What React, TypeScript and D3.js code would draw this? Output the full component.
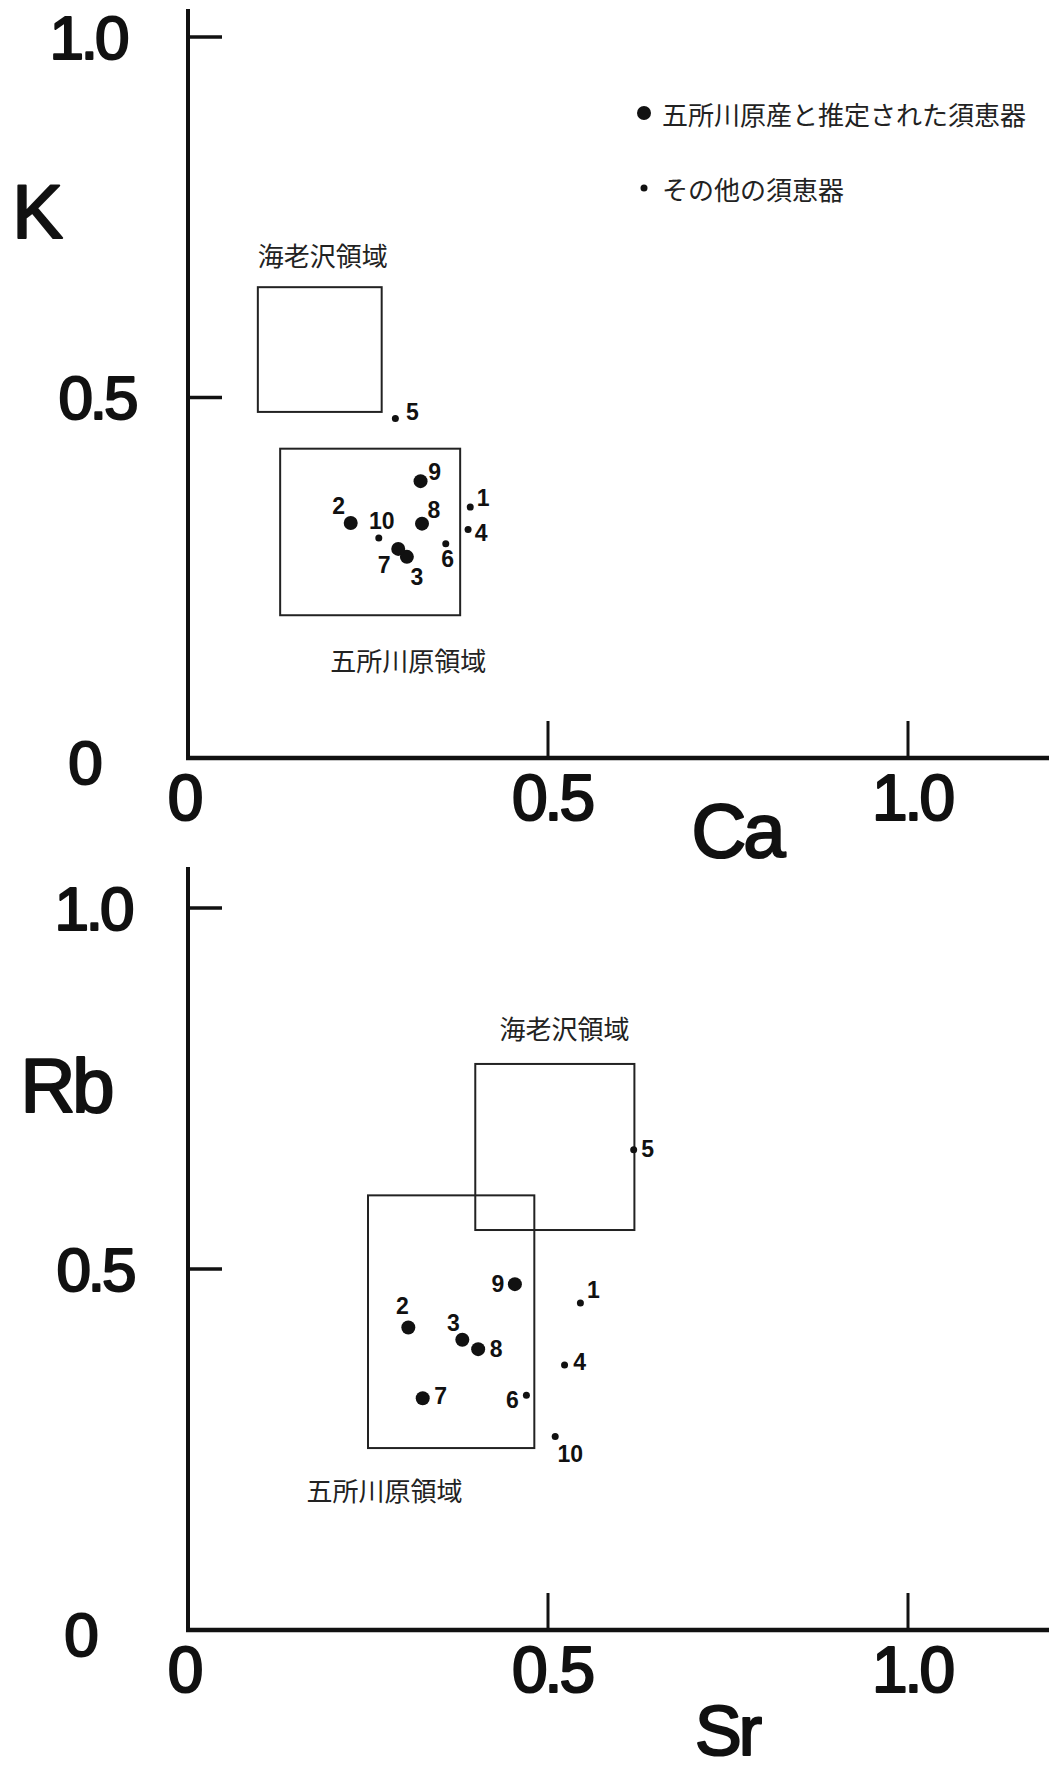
import React, { useEffect, useRef } from 'react';
import * as d3 from 'd3';

// sample numbers 1..10
const sampleIds = [1, 2, 3, 4, 5, 6, 7, 8, 9, 10];
// true = 五所川原産と推定された須恵器 (large dot)
const goshogawaraMade = [false, true, true, false, false, false, true, true, true, false];

const caValues = [0.392, 0.226, 0.304, 0.389, 0.288, 0.358, 0.292, 0.325, 0.323, 0.265];
const kValues = [0.348, 0.326, 0.279, 0.317, 0.471, 0.297, 0.290, 0.325, 0.384, 0.305];
const srValues = [0.545, 0.306, 0.381, 0.523, 0.619, 0.470, 0.326, 0.403, 0.454, 0.510];
const rbValues = [0.453, 0.419, 0.402, 0.367, 0.665, 0.325, 0.321, 0.389, 0.479, 0.268];

// regions [x0, x1, y0, y1]
const caKRegions = [
  { name: '海老沢領域', box: [0.097, 0.269, 0.480, 0.653] },
  { name: '五所川原領域', box: [0.128, 0.378, 0.198, 0.429] },
];
const srRbRegions = [
  { name: '海老沢領域', box: [0.399, 0.620, 0.554, 0.784] },
  { name: '五所川原領域', box: [0.250, 0.481, 0.252, 0.602] },
];

const tickValues = [0, 0.5, 1.0];
const tickLabels = ['0', '0.5', '1.0'];

const legendItems = ['五所川原産と推定された須恵器', 'その他の須恵器'];

// label placement (px offsets from the dot)
const caKLabelOffsets = [[13, -9], [-12, -17], [10, 20], [13, 4], [17, -6], [2, 15], [-14, 16], [12, -14], [14, -9], [3, -17]];
const srRbLabelOffsets = [[13, -13], [-6, -21], [-9, -17], [15, -3], [14, -1], [-14, 5], [18, -2], [18, 0], [-17, 0], [15, 17]];

const W = 1049;
const H = 1769;
const NUM_FONT = "'Liberation Sans', Arial, sans-serif";
const JP_FONT = "'Noto Sans CJK JP', sans-serif";
const PT_FONT = "'Liberation Sans', Arial, sans-serif";

type PanelCfg = {
  xs: number[];
  ys: number[];
  regions: { name: string; box: number[] }[];
  offsets: number[][];
  yRange: [number, number];
  yTop: number;
  xTitle: string;
  yTitle: string;
  xTitlePos: [number, number];
  yTitlePos: [number, number];
  titleSize: number;
  regionLabels: { x: number; y: number; anchor: string }[];
  yLabelX: number[];
};

const App = () => {
  const svgRef = useRef<SVGSVGElement>(null);

  useEffect(() => {
    const svg = d3.select(svgRef.current);
    svg.selectAll('*').remove();

    svg.append('rect').attr('width', W).attr('height', H).attr('fill', '#fff');

    // heavy rounded look for the big axis lettering
    const bigText = (sel: any, size: number) => sel
      .attr('text-anchor', 'middle').attr('dominant-baseline', 'central')
      .style('font-family', NUM_FONT).style('font-size', `${size}px`).style('font-weight', 400)
      .style('letter-spacing', '-3px')
      .attr('fill', '#111').attr('stroke', '#111').attr('stroke-width', 2.2)
      .attr('stroke-linejoin', 'round');

    const drawPanel = (cfg: PanelCfg) => {
      const x = d3.scaleLinear().domain([0, 1]).range([188, 908]);
      const y = d3.scaleLinear().domain([0, 1]).range(cfg.yRange);
      const g = svg.append('g');
      const y0 = y(0);

      // axes
      g.append('line').attr('x1', x(0)).attr('x2', x(0)).attr('y1', cfg.yTop).attr('y2', y0 + 2)
        .attr('stroke', '#111').attr('stroke-width', 4);
      g.append('line').attr('x1', x(0) - 2).attr('x2', W).attr('y1', y0).attr('y2', y0)
        .attr('stroke', '#111').attr('stroke-width', 4.5);

      // ticks
      g.selectAll('.xt').data(tickValues.slice(1)).join('line')
        .attr('x1', d => x(d)).attr('x2', d => x(d)).attr('y1', y0).attr('y2', y0 - 37)
        .attr('stroke', '#111').attr('stroke-width', 3);
      g.selectAll('.yt').data(tickValues.slice(1)).join('line')
        .attr('x1', x(0)).attr('x2', x(0) + 34).attr('y1', d => y(d)).attr('y2', d => y(d))
        .attr('stroke', '#111').attr('stroke-width', 3.5);

      // tick labels
      bigText(g.selectAll('.xl').data(tickValues).join('text'), 64)
        .attr('x', (d: number) => x(d) - 4 + (d === 0 ? 0 : 8))
        .attr('y', y0 + 40)
        .text((d: number, i: number) => tickLabels[i]);
      bigText(g.selectAll('.yl').data(tickValues).join('text'), 62)
        .attr('x', (d: number, i: number) => cfg.yLabelX[i])
        .attr('y', (d: number) => y(d) + (d === 0 ? 4 : 0))
        .text((d: number, i: number) => tickLabels[i]);

      // axis titles
      bigText(g.append('text'), cfg.titleSize)
        .attr('x', cfg.xTitlePos[0]).attr('y', cfg.xTitlePos[1])
        .text(cfg.xTitle);
      bigText(g.append('text'), 76)
        .attr('x', cfg.yTitlePos[0]).attr('y', cfg.yTitlePos[1])
        .text(cfg.yTitle);

      // region boxes
      g.selectAll('.rg').data(cfg.regions).join('rect')
        .attr('x', d => x(d.box[0])).attr('y', d => y(d.box[3]))
        .attr('width', d => x(d.box[1]) - x(d.box[0]))
        .attr('height', d => y(d.box[2]) - y(d.box[3]))
        .attr('fill', 'none').attr('stroke', '#222').attr('stroke-width', 2);

      g.selectAll('.rl').data(cfg.regions).join('text')
        .attr('x', (d, i) => x(cfg.regionLabels[i].x))
        .attr('y', (d, i) => y(cfg.regionLabels[i].y))
        .attr('text-anchor', (d, i) => cfg.regionLabels[i].anchor)
        .attr('dominant-baseline', 'central')
        .style('font-family', JP_FONT).style('font-size', '26px').style('font-weight', 400)
        .attr('fill', '#222')
        .text(d => d.name);

      // points
      const pts = sampleIds.map((id, i) => ({ id, x: cfg.xs[i], y: cfg.ys[i], big: goshogawaraMade[i], off: cfg.offsets[i] }));
      g.selectAll('.pt').data(pts).join('circle')
        .attr('cx', d => x(d.x)).attr('cy', d => y(d.y))
        .attr('r', d => d.big ? 7 : 3.5)
        .attr('fill', '#111');
      g.selectAll('.pl').data(pts).join('text')
        .attr('x', d => x(d.x) + d.off[0]).attr('y', d => y(d.y) + d.off[1])
        .attr('text-anchor', 'middle').attr('dominant-baseline', 'central')
        .style('font-family', PT_FONT).style('font-size', '23px').style('font-weight', 700)
        .attr('fill', '#111')
        .text(d => d.id);
    };

    drawPanel({
      xs: caValues, ys: kValues, regions: caKRegions, offsets: caKLabelOffsets,
      yRange: [758, 37], yTop: 9, xTitle: 'Ca', yTitle: 'K',
      xTitlePos: [737, 830], yTitlePos: [36, 211], titleSize: 76,
      regionLabels: [{ x: 0.097, y: 0.698, anchor: 'start' }, { x: 0.306, y: 0.137, anchor: 'middle' }],
      yLabelX: [84, 97, 88],
    });

    drawPanel({
      xs: srValues, ys: rbValues, regions: srRbRegions, offsets: srRbLabelOffsets,
      yRange: [1630, 908], yTop: 867, xTitle: 'Sr', yTitle: 'Rb',
      xTitlePos: [727, 1731], yTitlePos: [66, 1085], titleSize: 70,
      regionLabels: [{ x: 0.523, y: 0.834, anchor: 'middle' }, { x: 0.273, y: 0.194, anchor: 'middle' }],
      yLabelX: [80, 95, 93],
    });

    // legend
    const lg = svg.append('g');
    const ly = d3.scalePoint().domain(legendItems).range([113, 188]);
    lg.selectAll('circle').data(legendItems).join('circle')
      .attr('cx', 644).attr('cy', d => ly(d)!)
      .attr('r', (d, i) => i === 0 ? 7 : 3.5)
      .attr('fill', '#111');
    lg.selectAll('text').data(legendItems).join('text')
      .attr('x', 662).attr('y', d => ly(d)!)
      .attr('dominant-baseline', 'central')
      .style('font-family', JP_FONT).style('font-size', '26px').style('font-weight', 400)
      .attr('fill', '#222')
      .text(d => d);
  }, []);

  return (
    <svg
      ref={svgRef}
      width={W}
      height={H}
      style={{ position: 'absolute', left: 0, top: 0, display: 'block' }}
    />
  );
};

export default App;
